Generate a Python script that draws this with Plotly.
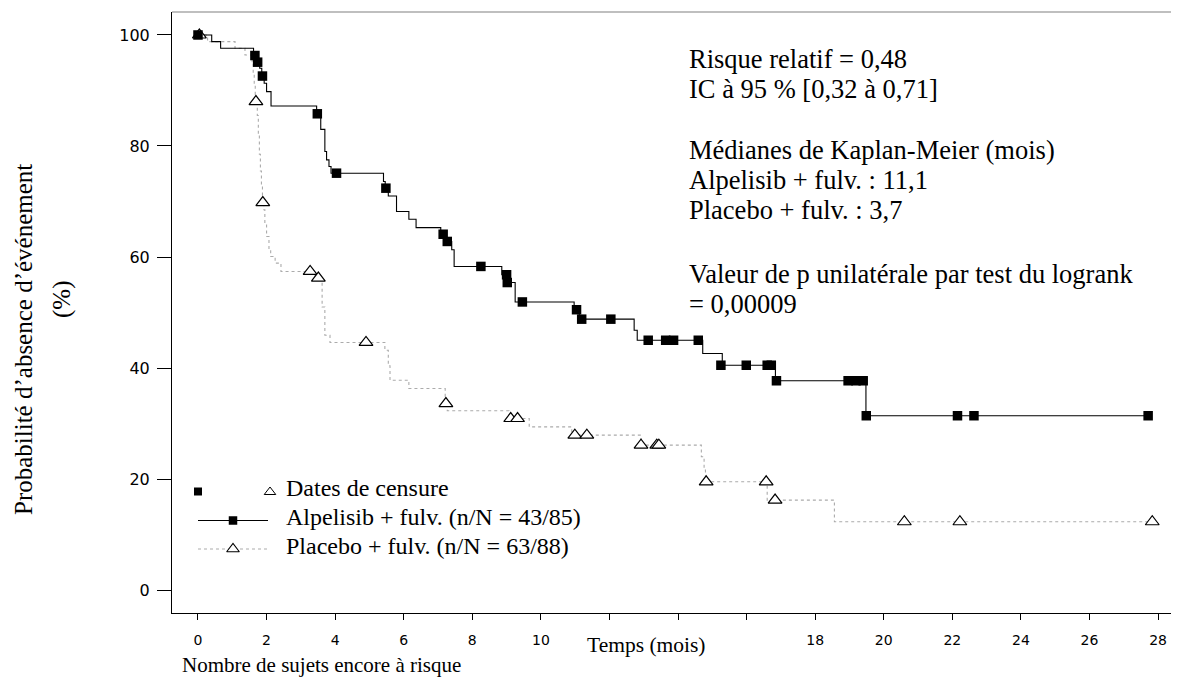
import plotly.graph_objects as go

# ---------------- data ----------------
# Alpelisib + fulvestrant : step curve (time in months, event-free probability %)
alp_t = [0, 0.40, 0.66, 1.62, 1.72, 1.80, 1.86, 1.93, 2.00, 2.13, 3.46, 3.58, 3.70,
         3.75, 3.82, 3.88, 5.41, 5.46, 5.55, 5.79, 6.15, 6.36, 7.08, 7.22, 7.40, 7.47,
         8.86, 9.01, 9.25, 10.97, 11.12, 12.72, 12.81, 14.72, 15.29, 16.84, 19.48, 27.72]
alp_s = [100, 98.8, 97.6, 96.3, 95.1, 94.0, 92.6, 91.3, 89.8, 87.2, 85.8, 83.0, 79.0,
         77.5, 76.3, 75.1, 73.6, 72.4, 71.0, 68.2, 66.8, 65.3, 64.1, 62.8, 61.3, 58.3,
         56.8, 55.4, 51.9, 50.5, 48.8, 46.8, 45.0, 42.6, 40.5, 37.7, 31.4, 31.4]
# Alpelisib censoring marks
alp_ct = [0, 1.66, 1.74, 1.88, 3.48, 4.04, 5.48, 7.15, 7.27, 8.25, 9.00, 9.02, 9.46,
          11.04, 11.19, 12.04, 13.13, 13.64, 13.87, 14.59, 15.25, 15.99, 16.60, 16.72,
          16.87, 18.96, 19.19, 19.40, 19.49, 22.15, 22.63, 27.71]
alp_cs = [100, 96.3, 95.1, 92.6, 85.8, 75.1, 72.4, 64.1, 62.8, 58.3, 56.8, 55.4, 51.9,
          50.5, 48.8, 48.8, 45.0, 45.0, 45.0, 45.0, 40.5, 40.5, 40.5, 40.5,
          37.7, 37.7, 37.7, 37.7, 31.4, 31.4, 31.4, 31.4]

# Placebo + fulvestrant : step curve
pla_t = [0, 0.28, 1.08, 1.37, 1.58, 1.61, 1.64, 1.67, 1.69, 1.73, 1.76, 1.79, 1.82,
         1.85, 1.88, 1.92, 1.95, 2.00, 2.07, 2.12, 2.25, 2.42, 3.40, 3.62, 3.70, 3.85,
         5.45, 5.55, 5.60, 6.15, 7.21, 7.27, 9.07, 9.66, 10.90, 12.92, 14.68, 14.76,
         14.80, 16.60, 18.56, 27.83]
pla_s = [100, 98.8, 97.6, 96.4, 95.2, 93.0, 91.0, 89.3, 88.0, 85.5, 82.0, 78.5, 75.5,
         73.0, 70.3, 68.5, 66.1, 63.7, 61.3, 60.1, 58.9, 57.4, 56.2, 51.0, 45.9, 44.6,
         43.2, 40.4, 37.8, 36.3, 33.6, 32.3, 30.9, 29.4, 27.9, 26.1, 24.0, 21.6,
         19.5, 16.2, 12.3, 12.3]
# Placebo censoring marks
pla_ct = [0.04, 1.69, 1.89, 3.27, 3.51, 4.90, 7.23, 9.12, 9.32, 10.99, 11.34, 12.92,
          13.38, 13.44, 14.82, 16.57, 16.83, 20.60, 22.22, 27.83]
pla_cs = [100, 88.0, 69.8, 57.4, 56.2, 44.6, 33.6, 30.9, 30.9, 27.9, 27.9, 26.1,
          26.1, 26.1, 19.5, 19.5, 16.2, 12.3, 12.3, 12.3]

x_ticks = list(range(0, 29, 2))
x_ticktext = ["" if v in (12, 14, 16) else str(v) for v in x_ticks]
y_ticks = [0, 20, 40, 60, 80, 100]

legend_labels = ["Dates de censure",
                 "Alpelisib + fulv. (n/N = 43/85)",
                 "Placebo + fulv. (n/N = 63/88)"]
stats_lines = ["Risque relatif = 0,48",
               "IC à 95 % [0,32 à 0,71]",
               "Médianes de Kaplan-Meier (mois)",
               "Alpelisib + fulv. : 11,1",
               "Placebo + fulv. : 3,7",
               "Valeur de p unilatérale par test du logrank",
               "= 0,00009"]

# ---------------- layout geometry (page pixels) ----------------
OFF = 8                      # default page body margin
PAGE_W, PAGE_H = 1179, 680
PL, PR, PT, PB = 172, 1179, 12, 613      # plot area in page pixels
W, H = PAGE_W - OFF, PAGE_H - OFF
L, T = PL - OFF, PT - OFF
B = H - (PB - OFF)
R = 0
PW, PH = PR - PL, PB - PT

def fx(p):  # page pixel x -> paper
    return (p - PL) / PW

def fy(p):  # page pixel y -> paper
    return (PB - p) / PH

SERIF = "Liberation Serif, Times New Roman, serif"
SANS = "DejaVu Sans, Verdana, sans-serif"
GREY = "#ababab"

fig = go.Figure()

# curves
fig.add_trace(go.Scatter(x=pla_t, y=pla_s, mode="lines", line_shape="hv",
                         line=dict(color=GREY, width=1.1, dash="dot"), hoverinfo="skip"))
fig.add_trace(go.Scatter(x=alp_t, y=alp_s, mode="lines", line_shape="hv",
                         line=dict(color="black", width=1.1), hoverinfo="skip"))
fig.add_trace(go.Scatter(x=pla_ct, y=pla_cs, mode="markers",
                         marker=dict(symbol="triangle-up", size=12, color="white",
                                     line=dict(color="black", width=1.2))))
fig.add_trace(go.Scatter(x=alp_ct, y=alp_cs, mode="markers",
                         marker=dict(symbol="square", size=9.5, color="black",
                                     line=dict(width=0))))

# legend glyphs on a pixel overlay axis
leg_rows = [496, 525, 554]
fig.add_trace(go.Scatter(x=[198], y=[leg_rows[0] - 4.5], xaxis="x2", yaxis="y2", mode="markers",
                         marker=dict(symbol="square", size=8, color="black")))
fig.add_trace(go.Scatter(x=[270], y=[leg_rows[0] - 4], xaxis="x2", yaxis="y2", mode="markers",
                         marker=dict(symbol="triangle-up", size=10, color="white",
                                     line=dict(color="black", width=1))))
fig.add_trace(go.Scatter(x=[198, 268], y=[leg_rows[1] - 4.5] * 2, xaxis="x2", yaxis="y2",
                         mode="lines", line=dict(color="black", width=1.1)))
fig.add_trace(go.Scatter(x=[233], y=[leg_rows[1] - 4.5], xaxis="x2", yaxis="y2", mode="markers",
                         marker=dict(symbol="square", size=8.5, color="black")))
fig.add_trace(go.Scatter(x=[198, 268], y=[leg_rows[2] - 5] * 2, xaxis="x2", yaxis="y2",
                         mode="lines", line=dict(color=GREY, width=1.1, dash="dot")))
fig.add_trace(go.Scatter(x=[233], y=[leg_rows[2] - 5], xaxis="x2", yaxis="y2", mode="markers",
                         marker=dict(symbol="triangle-up", size=11, color="white",
                                     line=dict(color="black", width=1.1))))

annotations = []
for lab, base in zip(legend_labels, leg_rows):
    annotations.append(dict(text=lab, x=fx(284), y=fy(base - 8), xref="paper", yref="paper",
                            xanchor="left", yanchor="middle", showarrow=False,
                            font=dict(family=SERIF, size=24, color="black")))
stat_base = [66.7, 96.7, 158.3, 188.3, 218.3, 281.7, 311.7]
for txt, base in zip(stats_lines, stat_base):
    annotations.append(dict(text=txt, x=fx(687), y=fy(base - 8), xref="paper", yref="paper",
                            xanchor="left", yanchor="middle", showarrow=False,
                            font=dict(family=SERIF, size=26.5, color="black")))
annotations.append(dict(text="Temps (mois)", x=fx(646), y=fy(645), xref="paper", yref="paper",
                        xanchor="center", yanchor="middle", showarrow=False,
                        font=dict(family=SERIF, size=21.5, color="black")))
annotations.append(dict(text="Nombre de sujets encore à risque", x=fx(180), y=fy(665),
                        xref="paper", yref="paper", xanchor="left", yanchor="middle",
                        showarrow=False, font=dict(family=SERIF, size=21, color="black")))
annotations.append(dict(text="Probabilité d’absence d’événement", x=fx(23), y=fy(340),
                        xref="paper", yref="paper", xanchor="center", yanchor="middle",
                        textangle=-90, showarrow=False,
                        font=dict(family=SERIF, size=25, color="black")))
annotations.append(dict(text="(%)", x=fx(62), y=fy(300), xref="paper", yref="paper",
                        xanchor="center", yanchor="middle", textangle=-90, showarrow=False,
                        font=dict(family=SERIF, size=25, color="black")))

fig.update_layout(
    width=W, height=H,
    margin=dict(l=L, r=R, t=T, b=B, autoexpand=False),
    paper_bgcolor="white", plot_bgcolor="white",
    showlegend=False,
    xaxis=dict(range=[-0.758, 28.61], tickvals=x_ticks, ticktext=x_ticktext,
               ticks="outside", ticklen=6, tickcolor="black", tickwidth=1,
               showline=True, linecolor="black", linewidth=1,
               showgrid=False, zeroline=False, ticklabelstandoff=8,
               tickfont=dict(family=SANS, size=14, color="black")),
    yaxis=dict(range=[-4.14, 104.14], tickvals=y_ticks,
               ticks="outside", ticklen=14, tickcolor="black", tickwidth=1,
               showline=True, linecolor="black", linewidth=1,
               showgrid=False, zeroline=False, ticklabelstandoff=4,
               tickfont=dict(family=SANS, size=16, color="black")),
    xaxis2=dict(overlaying="x", range=[PL, PR], visible=False, fixedrange=True),
    yaxis2=dict(overlaying="y", range=[PB, PT], visible=False, fixedrange=True),
    annotations=annotations,
    shapes=[dict(type="line", xref="paper", yref="paper", x0=0, x1=1, y0=1, y1=1,
                 line=dict(color="#808080", width=1.2))],
)

fig.write_html("out.html")
